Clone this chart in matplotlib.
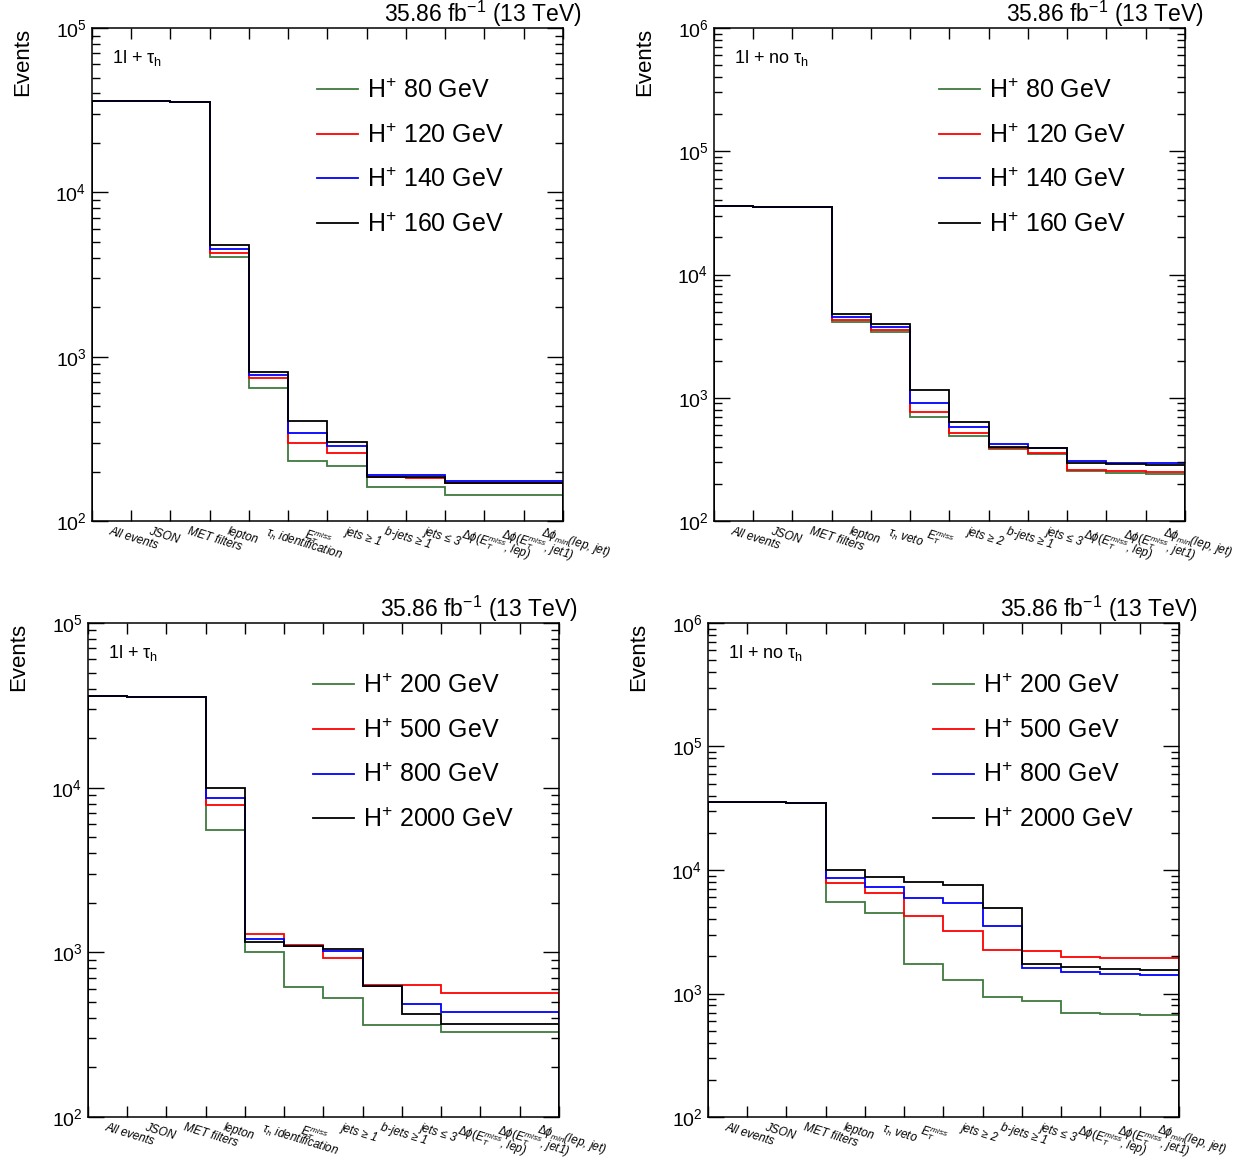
import numpy as np
import matplotlib
matplotlib.use('Agg')
import matplotlib.pyplot as plt

plt.rcParams['font.family'] = ['Liberation Sans', 'DejaVu Sans']
plt.rcParams['mathtext.fontset'] = 'custom'
plt.rcParams['mathtext.rm'] = 'Liberation Sans'
plt.rcParams['mathtext.it'] = 'Liberation Sans:italic'
plt.rcParams['mathtext.bf'] = 'Liberation Sans:bold'

#%% data
cuts_tau = ['All events', 'JSON', 'MET filters', 'lepton', r'$\tau_{h}$ identification',
            r'$E_{T}^{miss}$', 'jets ≥ 1', 'b-jets ≥ 1', 'jets ≤ 3',
            r'$\Delta\phi(E_{T}^{miss}$, lep)', r'$\Delta\phi(E_{T}^{miss}$, jet1)',
            r'$\Delta\phi_{min}$(lep, jet)']
cuts_notau = ['All events', 'JSON', 'MET filters', 'lepton', r'$\tau_{h}$ veto',
              r'$E_{T}^{miss}$', 'jets ≥ 2', 'b-jets ≥ 1', 'jets ≤ 3',
              r'$\Delta\phi(E_{T}^{miss}$, lep)', r'$\Delta\phi(E_{T}^{miss}$, jet1)',
              r'$\Delta\phi_{min}$(lep, jet)']

masses_low = ['80', '120', '140', '160']
masses_high = ['200', '500', '800', '2000']

# 1l + tau_h, low mass
tau_m80 = [36200, 35800, 35500, 4030, 646, 232, 217, 161, 160, 143, 143, 143]
tau_m120 = [36200, 35800, 35500, 4250, 746, 298, 261, 184, 182, 171, 171, 171]
tau_m140 = [36200, 35800, 35500, 4490, 771, 344, 284, 190, 190, 176, 176, 176]
tau_m160 = [36200, 35800, 35500, 4810, 807, 405, 301, 186, 184, 171, 171, 171]

# 1l + no tau_h, low mass
notau_m80 = [36300, 35600, 35500, 4080, 3420, 694, 486, 382, 350, 253, 245, 241]
notau_m120 = [36300, 35600, 35500, 4290, 3560, 771, 514, 389, 356, 261, 253, 252]
notau_m140 = [36300, 35600, 35500, 4560, 3760, 912, 582, 419, 393, 307, 298, 294]
notau_m160 = [36300, 35600, 35500, 4820, 3970, 1153, 640, 401, 393, 294, 290, 285]

# 1l + tau_h, high mass
tau_m200 = [36200, 35700, 35600, 5510, 1005, 618, 526, 361, 361, 328, 328, 328]
tau_m500 = [36200, 35700, 35600, 7880, 1285, 1103, 920, 631, 631, 564, 564, 564]
tau_m800 = [36200, 35700, 35600, 8610, 1199, 1087, 1023, 622, 486, 434, 434, 434]
tau_m2000 = [36200, 35700, 35600, 10000, 1161, 1087, 1052, 622, 420, 369, 369, 369]

# 1l + no tau_h, high mass
notau_m200 = [35800, 35200, 35100, 5520, 4500, 1750, 1282, 934, 878, 698, 685, 676]
notau_m500 = [35800, 35200, 35100, 7860, 6530, 4230, 3180, 2270, 2200, 1992, 1954, 1950]
notau_m800 = [35800, 35200, 35100, 8580, 7340, 5940, 5450, 3530, 1623, 1480, 1433, 1416]
notau_m2000 = [35800, 35200, 35100, 9950, 8850, 7960, 7570, 4930, 1738, 1654, 1585, 1555]

colors = ['#3f7a3f', '#ff0000', '#0000ff', '#000000']


#%%
def draw(ax, cuts, series, masses, channel, ymax):
  edges = np.arange(len(cuts) + 1)
  for vals, m, c in zip(series, masses, colors):
    ax.stairs(vals, edges, baseline=1, color=c, lw=1.3,
              label=r'H$^{+}$ ' + m + ' GeV')
  ax.set_yscale('log')
  ax.set_ylim(100, ymax)
  ax.set_xlim(0, len(cuts))
  ax.set_xticks(edges)
  ax.set_xticklabels([])
  ax.set_xticks(edges[:-1] + 0.5, cuts, minor=True)
  ax.tick_params(which='both', direction='in', top=True, right=True, width=1)
  ax.tick_params(axis='y', which='major', length=11.5, labelsize=14, pad=4)
  ax.tick_params(axis='y', which='minor', length=5.8)
  ax.tick_params(axis='x', which='major', length=8)
  ax.tick_params(axis='x', which='minor', length=0, top=False, pad=3)
  for lbl in ax.get_xticklabels(minor=True):
    lbl.set(rotation=-17, ha='left', va='top', rotation_mode='anchor',
            fontstyle='italic', fontsize=8.5)
  for s in ax.spines.values():
    s.set_linewidth(1.1)
  ax.set_ylabel('Events', fontsize=16, loc='top')
  ax.yaxis.set_label_coords(-0.125, 1.0)
  ax.text(1.04, 1.012, r'35.86 fb$^{-1}$ (13 TeV)', transform=ax.transAxes,
          ha='right', va='baseline', fontsize=16.5)
  ax.text(0.042, 0.929, channel, transform=ax.transAxes,
          ha='left', va='baseline', fontsize=13)
  ax.legend(loc='upper left', bbox_to_anchor=(0.478, 0.897), frameon=False,
            borderpad=0, borderaxespad=0,
            fontsize=18, handlelength=1.65, handletextpad=0.36, labelspacing=0.81)


fig = plt.figure(figsize=(12.46, 11.59), dpi=100)
ax1 = fig.add_axes([0.0738, 0.5505, 0.378, 0.4253])
ax2 = fig.add_axes([0.5730, 0.5505, 0.378, 0.4253])
ax3 = fig.add_axes([0.0706, 0.0362, 0.378, 0.4263])
ax4 = fig.add_axes([0.5682, 0.0362, 0.378, 0.4263])

draw(ax1, cuts_tau, [tau_m80, tau_m120, tau_m140, tau_m160], masses_low,
     r'1l + τ$_{\mathregular{h}}$', 1e5)
draw(ax2, cuts_notau, [notau_m80, notau_m120, notau_m140, notau_m160], masses_low,
     r'1l + no τ$_{\mathregular{h}}$', 1e6)
draw(ax3, cuts_tau, [tau_m200, tau_m500, tau_m800, tau_m2000], masses_high,
     r'1l + τ$_{\mathregular{h}}$', 1e5)
draw(ax4, cuts_notau, [notau_m200, notau_m500, notau_m800, notau_m2000], masses_high,
     r'1l + no τ$_{\mathregular{h}}$', 1e6)

plt.savefig('out.png', dpi=100)
